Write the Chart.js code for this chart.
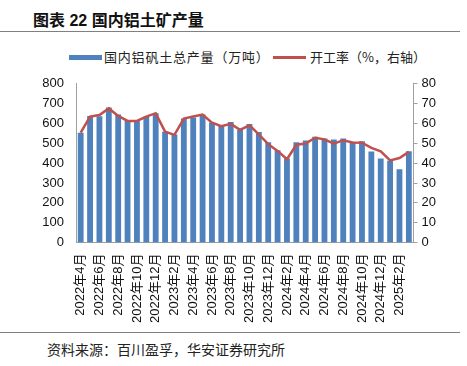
<!DOCTYPE html>
<html>
<head>
<meta charset="utf-8">
<script src="https://cdn.jsdelivr.net/npm/chart.js@4"></script>
<style>
  body { margin: 0; background: #fff; width: 467px; height: 366px; position: relative; overflow: hidden;
         font-family: "Liberation Sans", "Noto Sans CJK SC", sans-serif; }
  #title { position: absolute; left: 33px; top: 7px; font-size: 16px; font-weight: bold; color: #111;
           font-family: "Liberation Sans", "Noto Sans CJK SC", sans-serif; }
  .rule { position: absolute; left: 0; width: 460px; height: 0; border-top: 1.5px solid #808080; }
  #footer { position: absolute; left: 47px; top: 339px; font-size: 14px; color: #222;
            font-family: "Noto Sans CJK SC", sans-serif; }
  #legend { position: absolute; left: 0; top: 47px; width: 467px; height: 20px; font-size: 13px; color: #222;
            font-family: "Noto Sans CJK SC", sans-serif; }
  #legend .sw { position: absolute; }
  #legend .tx { position: absolute; top: 0; line-height: 20px; white-space: nowrap; }
  #wrap { position: absolute; left: 0; top: 72px; width: 467px; height: 258px; }
</style>
</head>
<body>
<div id="title">图表 22 国内铝土矿产量</div>
<div class="rule" style="top:31px"></div>
<div id="legend"></div>
<div id="wrap"><canvas id="bauxiteChart"></canvas></div>
<div class="rule" style="top:332px"></div>
<div id="footer">资料来源：百川盈孚，华安证券研究所</div>
<script>
const months = [
    '2022年4月', '2022年5月', '2022年6月', '2022年7月', '2022年8月', '2022年9月',
    '2022年10月', '2022年11月', '2022年12月', '2023年1月', '2023年2月', '2023年3月',
    '2023年4月', '2023年5月', '2023年6月', '2023年7月', '2023年8月', '2023年9月',
    '2023年10月', '2023年11月', '2023年12月', '2024年1月', '2024年2月', '2024年3月',
    '2024年4月', '2024年5月', '2024年6月', '2024年7月', '2024年8月', '2024年9月',
    '2024年10月', '2024年11月', '2024年12月', '2025年1月', '2025年2月', '2025年3月'
];

// 国内铝矾土总产量（万吨）
const output = [
    553, 638, 636, 681, 645, 613, 613, 635, 652, 559, 545, 625,
    630, 645, 605, 593, 608, 567, 598, 557, 506, 465, 424, 506,
    515, 533, 525, 520, 525, 506, 510, 459, 424, 413, 370, 460
];

// 开工率（%，右轴）
const rate = [
    55.4, 63.5, 64.3, 67.6, 63.8, 61.3, 61.3, 63.5, 65.2, 55.9, 54.3, 62.5,
    63.5, 64.5, 60.4, 58.6, 59.8, 56.8, 59.1, 54.5, 49.6, 46.2, 42.0, 49.3,
    49.9, 52.8, 52.0, 49.9, 51.6, 50.4, 50.3, 47.7, 46.0, 41.4, 42.6, 45.7
];

const leftTicks = [0, 100, 200, 300, 400, 500, 600, 700, 800];
const rightTicks = [0, 10, 20, 30, 40, 50, 60, 70, 80];

Chart.defaults.font.family = '"Liberation Sans", "Noto Sans CJK SC", sans-serif';
Chart.defaults.color = '#111';

const ctx = document.getElementById('bauxiteChart').getContext('2d');
const chart = new Chart(ctx, {
    data: {
        labels: months,
        datasets: [
            {
                type: 'bar',
                label: '国内铝矾土总产量（万吨）',
                data: output,
                backgroundColor: '#4F81BD',
                yAxisID: 'y',
                categoryPercentage: 1,
                barPercentage: 0.62,
                order: 2
            },
            {
                type: 'line',
                label: '开工率（%，右轴）',
                data: rate,
                borderColor: '#C0504D',
                backgroundColor: '#C0504D',
                borderWidth: 2.5,
                pointRadius: 0,
                tension: 0,
                yAxisID: 'y1',
                order: 1
            }
        ]
    },
    options: {
        responsive: true,
        maintainAspectRatio: false,
        animation: false,
        layout: { padding: { left: 40, right: 27, top: 6, bottom: 4 } },
        plugins: {
            legend: { display: false },
            tooltip: { enabled: false }
        },
        scales: {
            x: {
                grid: { display: false },
                border: { display: true, color: '#a0a0a0' },
                ticks: {
                    autoSkip: false,
                    minRotation: 90,
                    maxRotation: 90,
                    padding: 3,
                    font: { size: 13 },
                    callback: (v, i) => (i % 2 === 0 ? months[i] : '')
                }
            },
            y: {
                position: 'left',
                min: 0,
                max: 800,
                afterBuildTicks: axis => { axis.ticks = leftTicks.map(v => ({ value: v })); },
                afterFit: axis => { axis.width = 36; },
                grid: { display: false },
                border: { display: true, color: '#a0a0a0' },
                ticks: { font: { size: 13 }, padding: 4 }
            },
            y1: {
                position: 'right',
                min: 0,
                max: 80,
                afterBuildTicks: axis => { axis.ticks = rightTicks.map(v => ({ value: v })); },
                grid: { display: true, drawOnChartArea: false, drawTicks: true, tickLength: 4, color: '#a0a0a0' },
                border: { display: true, color: '#a0a0a0' },
                ticks: { font: { size: 13 }, padding: 4 }
            }
        }
    }
});

// legend built from the chart's own datasets
const legendPos = [
    { sw: 69, tx: 104, h: 5, ls: 0.8 },
    { sw: 273, tx: 310, h: 3, ls: 0 }
];
const legendEl = document.getElementById('legend');
chart.data.datasets.forEach((ds, i) => {
    const p = legendPos[i];
    const sw = document.createElement('div');
    sw.className = 'sw';
    sw.style.cssText = `left:${p.sw}px;top:${10 - p.h / 2}px;width:33px;height:${p.h}px;background:${ds.type === 'line' ? ds.borderColor : ds.backgroundColor}`;
    const tx = document.createElement('div');
    tx.className = 'tx';
    tx.style.left = p.tx + 'px';
    tx.style.letterSpacing = p.ls + 'px';
    tx.textContent = ds.label;
    legendEl.appendChild(sw);
    legendEl.appendChild(tx);
});
</script>
</body>
</html>
